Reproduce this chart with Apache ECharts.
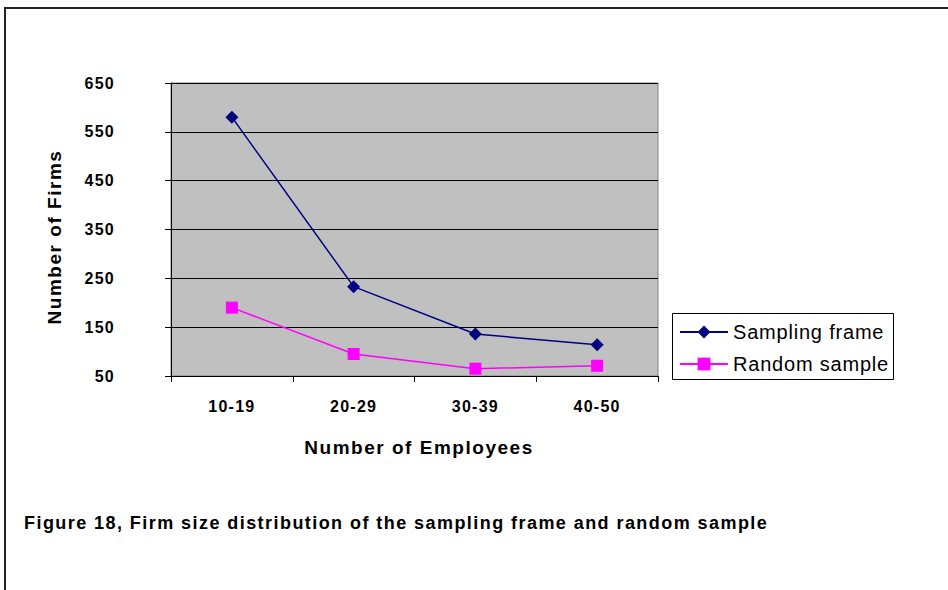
<!DOCTYPE html>
<html>
<head>
<meta charset="utf-8">
<script src="https://cdn.jsdelivr.net/npm/echarts@6/dist/echarts.min.js"></script>
<style>
  html, body { margin: 0; padding: 0; background: #fff; }
  #chart { width: 948px; height: 590px; }
  /* the typeface is set loosely, like the office export it comes from */
  #chart text[style*="bold"] { letter-spacing: 0.08em; }
  #chart text[style*="bold 18px"] { letter-spacing: 0.086em; }
  #chart text:not([style*="bold"]) { letter-spacing: 0.04em; }
</style>
</head>
<body>
<div id="chart"></div>
<script>
// Firm size bands and counts
const categories = ['10-19', '20-29', '30-39', '40-50'];
const samplingFrame = [580, 233, 136, 114];
const randomSample = [190, 95, 65, 71];
const yTicks = { min: 50, max: 650, interval: 100 };

const xTitle = 'Number of Employees';
const yTitle = 'Number of Firms';
const caption = 'Figure 18, Firm size distribution of the sampling frame and random sample';

const font = 'Liberation Sans, Arial, sans-serif';

const chart = echarts.init(document.getElementById('chart'), null, { renderer: 'svg' });

chart.setOption({
  backgroundColor: '#ffffff',
  animation: false,
  grid: {
    left: 171, top: 83, width: 487, height: 293,
    show: true, backgroundColor: '#c0c0c0',
    borderColor: '#808080', borderWidth: 1
  },
  xAxis: {
    type: 'category',
    data: categories,
    boundaryGap: true,
    axisLine: { lineStyle: { color: '#000', width: 1 } },
    axisTick: { show: true, alignWithLabel: false, length: 6, lineStyle: { color: '#000' } },
    axisLabel: { fontFamily: font, fontWeight: 'bold', fontSize: 16, color: '#000', margin: 22 },
    splitLine: { show: false }
  },
  yAxis: {
    type: 'value',
    min: yTicks.min, max: yTicks.max, interval: yTicks.interval,
    axisLine: { show: true, lineStyle: { color: '#000', width: 1 } },
    axisTick: { show: true, length: 6, lineStyle: { color: '#000' } },
    axisLabel: { fontFamily: font, fontWeight: 'bold', fontSize: 16, color: '#000', margin: 56 },
    splitLine: { show: true, lineStyle: { color: '#000', width: 1 } }
  },
  legend: {
    left: 679, top: 322,
    orient: 'vertical',
    padding: 0,
    itemGap: 12,
    itemWidth: 48, itemHeight: 16,
    textStyle: { fontFamily: font, fontSize: 20, color: '#000' },
    data: ['Sampling frame', 'Random sample']
  },
  series: [
    {
      name: 'Sampling frame', type: 'line', data: samplingFrame,
      symbol: 'diamond', symbolSize: 13,
      lineStyle: { color: '#000080', width: 1.5 },
      itemStyle: { color: '#000080' }
    },
    {
      name: 'Random sample', type: 'line', data: randomSample,
      symbol: 'rect', symbolSize: 12,
      lineStyle: { color: '#ff00ff', width: 1.5 },
      itemStyle: { color: '#ff00ff' }
    }
  ],
  graphic: [
    {
      // outer frame of the figure
      type: 'polyline', silent: true,
      shape: { points: [[5, 600], [5, 8], [960, 8]] },
      style: { stroke: '#222', lineWidth: 2, fill: null }
    },
    {
      // legend box
      type: 'rect', silent: true, z: -1,
      shape: { x: 672.5, y: 313.5, width: 221, height: 66 },
      style: { fill: '#fff', stroke: '#000', lineWidth: 1 }
    },
    {
      type: 'text', x: 419, y: 447, silent: true,
      style: {
        text: xTitle, align: 'center', verticalAlign: 'middle',
        fontFamily: font, fontWeight: 'bold', fontSize: 19, fill: '#000'
      }
    },
    {
      type: 'text', x: 54, y: 237, rotation: Math.PI / 2, silent: true,
      style: {
        text: yTitle, align: 'center', verticalAlign: 'middle',
        fontFamily: font, fontWeight: 'bold', fontSize: 19, fill: '#000'
      }
    },
    {
      type: 'text', x: 24, y: 523, silent: true,
      style: {
        text: caption, align: 'left', verticalAlign: 'middle',
        fontFamily: font, fontWeight: 'bold', fontSize: 18, fill: '#000'
      }
    }
  ]
});
</script>
</body>
</html>
